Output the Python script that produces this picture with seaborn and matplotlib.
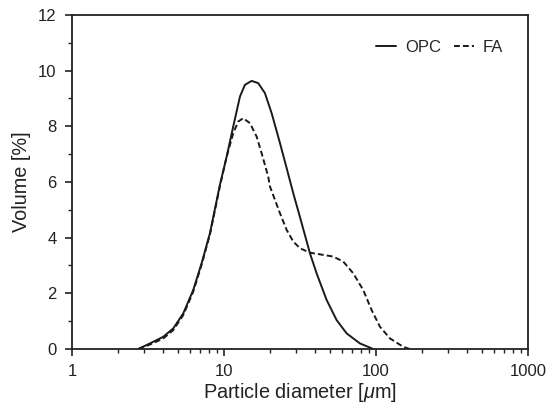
import numpy as np
import pandas as pd
import matplotlib
matplotlib.use("Agg")
import matplotlib.pyplot as plt
import seaborn as sns
from matplotlib.ticker import FixedLocator, NullFormatter, MultipleLocator
from matplotlib.lines import Line2D

# Data
opc_d = [2.73, 3.26, 3.99, 4.64, 5.40, 6.28, 7.13, 8.09, 9.41, 10.42, 11.51,
         12.75, 13.75, 15.22, 16.81, 18.61, 20.6, 23.36, 25.85, 28.57, 31.6,
         36.8, 40.7, 47.4, 55.1, 64.2, 78.5, 96.0]
opc_v = [0.0, 0.2, 0.44, 0.74, 1.28, 2.12, 3.08, 4.16, 5.9, 6.91, 7.99,
         9.07, 9.49, 9.63, 9.55, 9.19, 8.47, 7.4, 6.5, 5.6, 4.75,
         3.44, 2.72, 1.76, 1.04, 0.56, 0.2, 0.0]

fa_d = [2.73, 3.26, 3.99, 4.64, 5.40, 6.28, 7.13, 8.09, 9.41, 10.42, 11.51,
        12.42, 13.40, 14.83, 16.41, 17.70, 19.56, 20.1, 23.36, 25.85, 28.57,
        31.6, 36.8, 44.99, 52.4, 61.0, 70.9, 82.5, 93.7, 106.3, 123.7, 151.2, 167]
fa_v = [0.0, 0.16, 0.38, 0.68, 1.22, 2.06, 3.03, 4.12, 5.85, 6.91, 7.75,
        8.17, 8.29, 8.11, 7.63, 7.03, 6.19, 5.83, 4.88, 4.28, 3.86,
        3.62, 3.46, 3.38, 3.32, 3.14, 2.72, 2.12, 1.40, 0.80, 0.38, 0.08, 0.0]

labels = ["OPC", "FA"]
x_ticks = [1, 10, 100, 1000]
x_ticklabels = ["1", "10", "100", "1000"]

df = pd.concat([
    pd.DataFrame({"d": opc_d, "v": opc_v, "sample": labels[0]}),
    pd.DataFrame({"d": fa_d, "v": fa_v, "sample": labels[1]}),
], ignore_index=True)

sns.set_theme(style="ticks")
plt.rcParams["font.family"] = ["Liberation Sans", "DejaVu Sans"]
plt.rcParams["mathtext.fontset"] = "custom"
plt.rcParams["mathtext.it"] = "Liberation Sans:italic"
plt.rcParams["mathtext.rm"] = "Liberation Sans"

fig = plt.figure(figsize=(5.58, 4.03), dpi=100)
ax = fig.add_axes([0.129, 0.134, 0.817, 0.829])

line_color = "#1a1a1a"
dash = (3, 1.6)
sns.lineplot(data=df, x="d", y="v", style="sample",
             dashes={"OPC": "", "FA": dash},
             color=line_color, linewidth=1.4, estimator=None, sort=False,
             legend=False, ax=ax)

ax.set_xscale("log")
ax.set_xlim(1, 1000)
ax.set_ylim(0, 12)
ax.xaxis.set_major_locator(FixedLocator(x_ticks))
ax.set_xticklabels(x_ticklabels)
minors = [m * 10 ** e for e in range(0, 3) for m in range(2, 10)]
ax.xaxis.set_minor_locator(FixedLocator(minors))
ax.xaxis.set_minor_formatter(NullFormatter())
ax.yaxis.set_major_locator(MultipleLocator(2))
ax.yaxis.set_minor_locator(MultipleLocator(1))

ax.tick_params(axis="both", which="major", direction="out", length=5, width=1.2,
               labelsize=12, color="#222222", labelcolor="#222222", pad=6)
ax.tick_params(axis="both", which="minor", direction="out", length=3, width=1.0,
               color="#222222")
ax.tick_params(top=False, right=False, which="both")
for s in ax.spines.values():
    s.set_visible(True)
    s.set_color("#222222")
    s.set_linewidth(1.3)

ax.set_xlabel(r"Particle diameter [$\mu$m]", fontsize=14.3, color="#222222", labelpad=1)
ax.set_ylabel("Volume [%]", fontsize=14.3, color="#222222", labelpad=5)

handles = [Line2D([], [], color=line_color, lw=1.4),
           Line2D([], [], color=line_color, lw=1.4, dashes=dash)]
ax.legend(handles, labels, loc="upper right", ncol=2, frameon=False,
          fontsize=12, handlelength=1.2, handletextpad=0.5,
          columnspacing=0.8, borderpad=0, borderaxespad=0,
          bbox_to_anchor=(0.945, 0.925))

fig.savefig("out.png", dpi=100)
